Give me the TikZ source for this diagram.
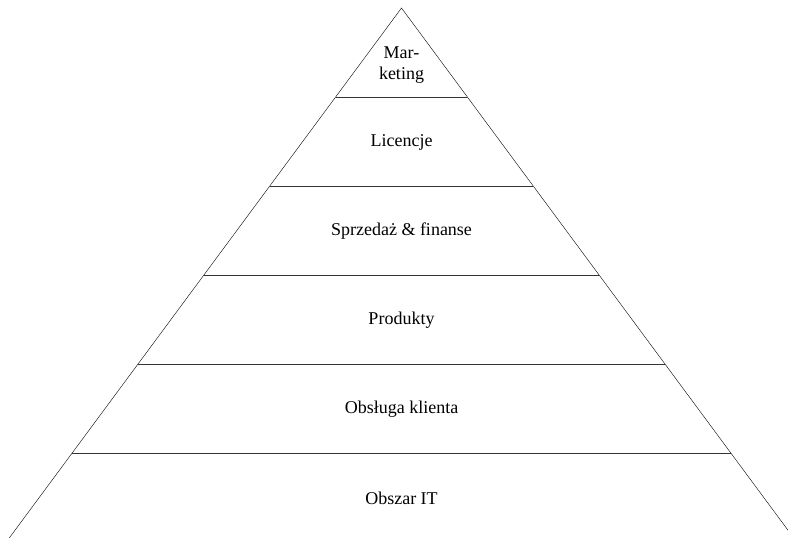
\documentclass[tikz,border=0pt]{standalone}
\usepackage{fontspec}
\setmainfont{Liberation Serif}
\begin{document}
\begin{tikzpicture}[x=1pt, y=-1pt]
\useasboundingbox (0,0) rectangle (788,538);
\coordinate (top) at (401.5, 8);
\coordinate (L) at (6.3, 542);
\coordinate (R) at (796.7, 542);
\coordinate (a1) at (335.6, 97);  \coordinate (b1) at (467.4, 97);
\coordinate (a2) at (269.8, 186); \coordinate (b2) at (533.2, 186);
\coordinate (a3) at (203.9, 275); \coordinate (b3) at (599.1, 275);
\coordinate (a4) at (138.1, 364); \coordinate (b4) at (664.9, 364);
\coordinate (a5) at (72.2, 453);  \coordinate (b5) at (730.8, 453);
\node[font=\fontsize{18}{20.5}\selectfont, align=center] (mkt) at (401.5, 65) {Mar-\\keting};
\node[font=\fontsize{18}{20}\selectfont] (lic) at (401.5, 142) {Licencje};
\node[font=\fontsize{18}{20}\selectfont] (spr) at (401.5, 231) {Sprzedaż \& finanse};
\node[font=\fontsize{18}{20}\selectfont] (prd) at (401.5, 320) {Produkty};
\node[font=\fontsize{18}{20}\selectfont] (obs) at (401.5, 409) {Obsługa klienta};
\node[font=\fontsize{18}{20}\selectfont] (it) at (401.5, 498) {Obszar IT};
\path [-, thin, draw=black] (L) -- (top) -- (R);
\path [-, line width=1pt, draw=black!80] (a1) edge (b1);
\path [-, line width=1pt, draw=black!80] (a2) edge (b2);
\path [-, line width=1pt, draw=black!80] (a3) edge (b3);
\path [-, line width=1pt, draw=black!80] (a4) edge (b4);
\path [-, line width=1pt, draw=black!80] (a5) edge (b5);
\end{tikzpicture}
\end{document}
